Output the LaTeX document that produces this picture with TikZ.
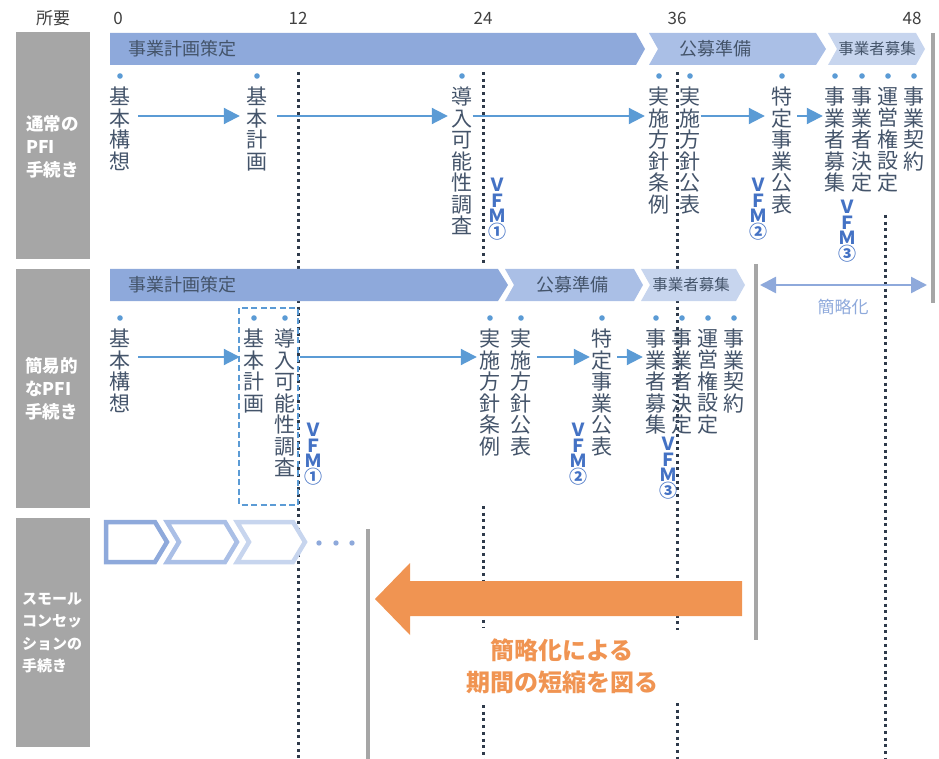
\documentclass[tikz,border=0pt]{standalone}
\usepackage{fontspec}
\setmainfont{Noto Sans CJK JP}
\usetikzlibrary{arrows.meta}
\definecolor{bandA}{HTML}{8EA9DB}
\definecolor{bandB}{HTML}{AABFE6}
\definecolor{bandC}{HTML}{C7D5EE}
\definecolor{txt}{HTML}{44546A}
\definecolor{dotc}{HTML}{5B9BD5}
\definecolor{vfmc}{HTML}{4472C4}
\definecolor{dline}{HTML}{2E3A4A}
\definecolor{grayb}{HTML}{A6A6A6}
\definecolor{orng}{HTML}{F09452}
\definecolor{hdr}{HTML}{404040}
\makeatletter
\newcommand\vst[2]{\vbox{\baselineskip=#1\relax\lineskiplimit=-\maxdimen\@tfor\vst@c:=#2\do{\hbox to 1em{\hss\vst@c\hss}}}}
\makeatother
\begin{document}
\begin{tikzpicture}[x=1pt,y=-1pt,
  itm/.style={inner sep=0pt, anchor=north, text=txt, font=\fontsize{21}{21.5}\selectfont},
  vfm/.style={inner sep=0pt, anchor=north, text=vfmc, font=\fontsize{18}{15.5}\selectfont\bfseries},
  bandtxt/.style={inner sep=0pt, text=txt, font=\fontsize{18}{20}\selectfont},
  bandtxts/.style={inner sep=0pt, text=txt, font=\fontsize{15.5}{18}\selectfont},
  rowlab/.style={inner sep=0pt, anchor=west, align=left, text=white, font=\fontsize{17.5}{23}\selectfont\bfseries},
  rowlabs/.style={inner sep=0pt, anchor=west, align=left, text=white, font=\fontsize{15}{22.5}\selectfont\bfseries},
  hdrtxt/.style={inner sep=0pt, text=hdr, font=\fontsize{17}{20}\selectfont},
  dotline/.style={draw=dline, line width=3pt, dash pattern=on 3pt off 3.7pt},
  arr/.style={draw=dotc, line width=2pt, -{Triangle[length=16pt,width=16pt]}},
  graybar/.style={draw=grayb, line width=4pt},
  chev/.style={line width=4.5pt, line join=miter, fill=white}
]
\path[use as bounding box] (0,0) rectangle (939,759);

% header
\node[hdrtxt] (h0) at (53,18) {所要};
\node[hdrtxt] (t0) at (118,18) {0};
\node[hdrtxt] (t12) at (298,18) {12};
\node[hdrtxt] (t24) at (483,18) {24};
\node[hdrtxt] (t36) at (677,18) {36};
\node[hdrtxt] (t48) at (912,18) {48};

% row label boxes
\fill[grayb] (16,32) rectangle (90,259);
\fill[grayb] (16,269) rectangle (90,508);
\fill[grayb] (16,518) rectangle (90,747);
\node[rowlab] (L1) at (26,147) {通常の\\PFI\\手続き};
\node[rowlab] (L2) at (25,389) {簡易的\\なPFI\\手続き};
\node[rowlabs] (L3) at (22,633) {スモール\\コンセッ\\ションの\\手続き};

% dotted guide lines
\draw[dotline] (298,72) -- (298,759);
\draw[dotline] (483,72) -- (483,266);
\draw[dotline] (483,506) -- (483,628);
\draw[dotline] (483,705) -- (483,759);
\draw[dotline] (677,72) -- (677,630);
\draw[dotline] (677,703) -- (677,759);
\draw[dotline] (885,215) -- (885,759);

% gray bars
\draw[graybar] (933,33) -- (933,303);
\draw[graybar] (756,264) -- (756,640);
\draw[graybar] (368,529) -- (368,759);

% row 1 bands
\fill[bandA] (110,33) -- (636,33) -- (645,49) -- (636,65) -- (110,65) -- cycle;
\fill[bandB] (649,33) -- (816,33) -- (826,49) -- (816,65) -- (649,65) -- (658,49) -- cycle;
\fill[bandC] (828,33) -- (916,33) -- (925,49) -- (916,65) -- (828,65) -- (837,49) -- cycle;
\node[bandtxt] (b1a) at (182,49) {事業計画策定};
\node[bandtxt] (b1b) at (715,49) {公募準備};
\node[bandtxts] (b1c) at (877,49) {事業者募集};

% row 2 bands
\fill[bandA] (110,269) -- (498,269) -- (508,285) -- (498,301) -- (110,301) -- cycle;
\fill[bandB] (505,269) -- (634,269) -- (643,285) -- (634,301) -- (505,301) -- (514,285) -- cycle;
\fill[bandC] (641,269) -- (736,269) -- (745,285) -- (736,301) -- (641,301) -- (650,285) -- cycle;
\node[bandtxt] (b2a) at (182,285) {事業計画策定};
\node[bandtxt] (b2b) at (572,285) {公募準備};
\node[bandtxts] (b2c) at (691,285) {事業者募集};

% row 1 items
\node[itm] (r1a) at (120,87) {\vst{21.5pt}{基本構想}};
\node[itm] (r1b) at (257,87) {\vst{21.5pt}{基本計画}};
\node[itm] (r1c) at (462,87) {\vst{21.5pt}{導入可能性調査}};
\node[itm] (r1d) at (659,87) {\vst{21.5pt}{実施方針条例}};
\node[itm] (r1e) at (690,87) {\vst{21.5pt}{実施方針公表}};
\node[itm] (r1f) at (782,87) {\vst{21.5pt}{特定事業公表}};
\node[itm] (r1g) at (835,87) {\vst{21.5pt}{事業者募集}};
\node[itm] (r1h) at (862,87) {\vst{21.5pt}{事業者決定}};
\node[itm] (r1i) at (888,87) {\vst{21.5pt}{運営権設定}};
\node[itm] (r1j) at (914,87) {\vst{21.5pt}{事業契約}};

% row 2 items
\node[itm] (r2a) at (120,329) {\vst{21.5pt}{基本構想}};
\node[itm] (r2b) at (254,329) {\vst{21.5pt}{基本計画}};
\node[itm] (r2c) at (285,329) {\vst{21.5pt}{導入可能性調査}};
\node[itm] (r2d) at (490,329) {\vst{21.5pt}{実施方針条例}};
\node[itm] (r2e) at (521,329) {\vst{21.5pt}{実施方針公表}};
\node[itm] (r2f) at (602,329) {\vst{21.5pt}{特定事業公表}};
\node[itm] (r2g) at (656,329) {\vst{21.5pt}{事業者募集}};
\node[itm] (r2h) at (682,329) {\vst{21.5pt}{事業者決定}};
\node[itm] (r2i) at (708,329) {\vst{21.5pt}{運営権設定}};
\node[itm] (r2j) at (734,329) {\vst{21.5pt}{事業契約}};

% dots above items
\foreach \n in {r1a,r1b,r1c,r1d,r1e,r1f,r1g,r1h,r1i,r1j,r2a,r2b,r2c,r2d,r2e,r2f,r2g,r2h,r2i,r2j}
  \fill[dotc] ([yshift=11pt]\n.north) circle (2.8pt);

% arrows
\coordinate (ay1) at (0,116);
\coordinate (ay2) at (0,357);
\draw[arr, shorten <=7.5pt, shorten >=6.5pt] (r1a.east |- ay1) -- (r1b.west |- ay1);
\draw[arr, shorten <=9.5pt, shorten >=3.5pt] (r1b.east |- ay1) -- (r1c.west |- ay1);
\draw[arr, shorten <=0pt, shorten >=3.5pt] (r1c.east |- ay1) -- (r1d.west |- ay1);
\draw[arr, shorten <=0pt, shorten >=6.5pt] (r1e.east |- ay1) -- (r1f.west |- ay1);
\draw[arr, shorten <=4.5pt, shorten >=1.5pt] (r1f.east |- ay1) -- (r1g.west |- ay1);
\draw[arr, shorten <=7.5pt, shorten >=3.5pt] (r2a.east |- ay2) -- (r2b.west |- ay2);
\draw[arr, shorten <=4.5pt, shorten >=2.5pt] (r2c.east |- ay2) -- (r2d.west |- ay2);
\draw[arr, shorten <=5.5pt, shorten >=1.5pt] (r2e.east |- ay2) -- (r2f.west |- ay2);
\draw[arr, shorten <=4.5pt, shorten >=2.5pt] (r2f.east |- ay2) -- (r2g.west |- ay2);

% VFM labels
\node[vfm] (v1a) at (497,178) {\vst{15.5pt}{ＶＦＭ①}};
\node[vfm] (v1b) at (758,178) {\vst{15.5pt}{ＶＦＭ②}};
\node[vfm] (v1c) at (847,200) {\vst{15.5pt}{ＶＦＭ③}};
\node[vfm] (v2a) at (313,423) {\vst{15.5pt}{ＶＦＭ①}};
\node[vfm] (v2b) at (578,423) {\vst{15.5pt}{ＶＦＭ②}};
\node[vfm] (v2c) at (668,437) {\vst{15.5pt}{ＶＦＭ③}};

% dashed box around 基本計画 / 導入可能性調査
\draw[draw=dotc, line width=1.6pt, dash pattern=on 6pt off 3.5pt] (239,308) rectangle (298,505);

% simplification double arrow
\coordinate (s1) at (760,285);
\coordinate (s2) at (927,285);
\draw[draw=bandA, line width=2.5pt, {Triangle[length=16pt,width=16pt]}-{Triangle[length=16pt,width=16pt]}] (s1) -- (s2);
\node[inner sep=0pt, text=bandA, font=\fontsize{17}{20}\selectfont] (kr) at (843,307) {簡略化};

% row 3 chevrons
\draw[chev, draw=bandA] (106,522) -- (155,522) -- (167,542) -- (155,562) -- (106,562) -- cycle;
\draw[chev, draw=bandB] (167,522) -- (225,522) -- (237,542) -- (225,562) -- (167,562) -- (179,542) -- cycle;
\draw[chev, draw=bandC] (237,522) -- (293,522) -- (305,542) -- (293,562) -- (237,562) -- (249,542) -- cycle;
\fill[bandA] (319,543) circle (2.7pt);
\fill[bandA] (336,543) circle (2.7pt);
\fill[bandA] (352,543) circle (2.7pt);

% orange arrow and message
\fill[orng] (742,581) -- (410,581) -- (410,563) -- (375,599) -- (410,635) -- (410,616) -- (742,616) -- cycle;
\node[inner sep=0pt, align=center, text=orng, font=\fontsize{24}{32}\selectfont\bfseries] (msg) at (562,666) {簡略化による\\期間の短縮を図る};
\end{tikzpicture}
\end{document}
